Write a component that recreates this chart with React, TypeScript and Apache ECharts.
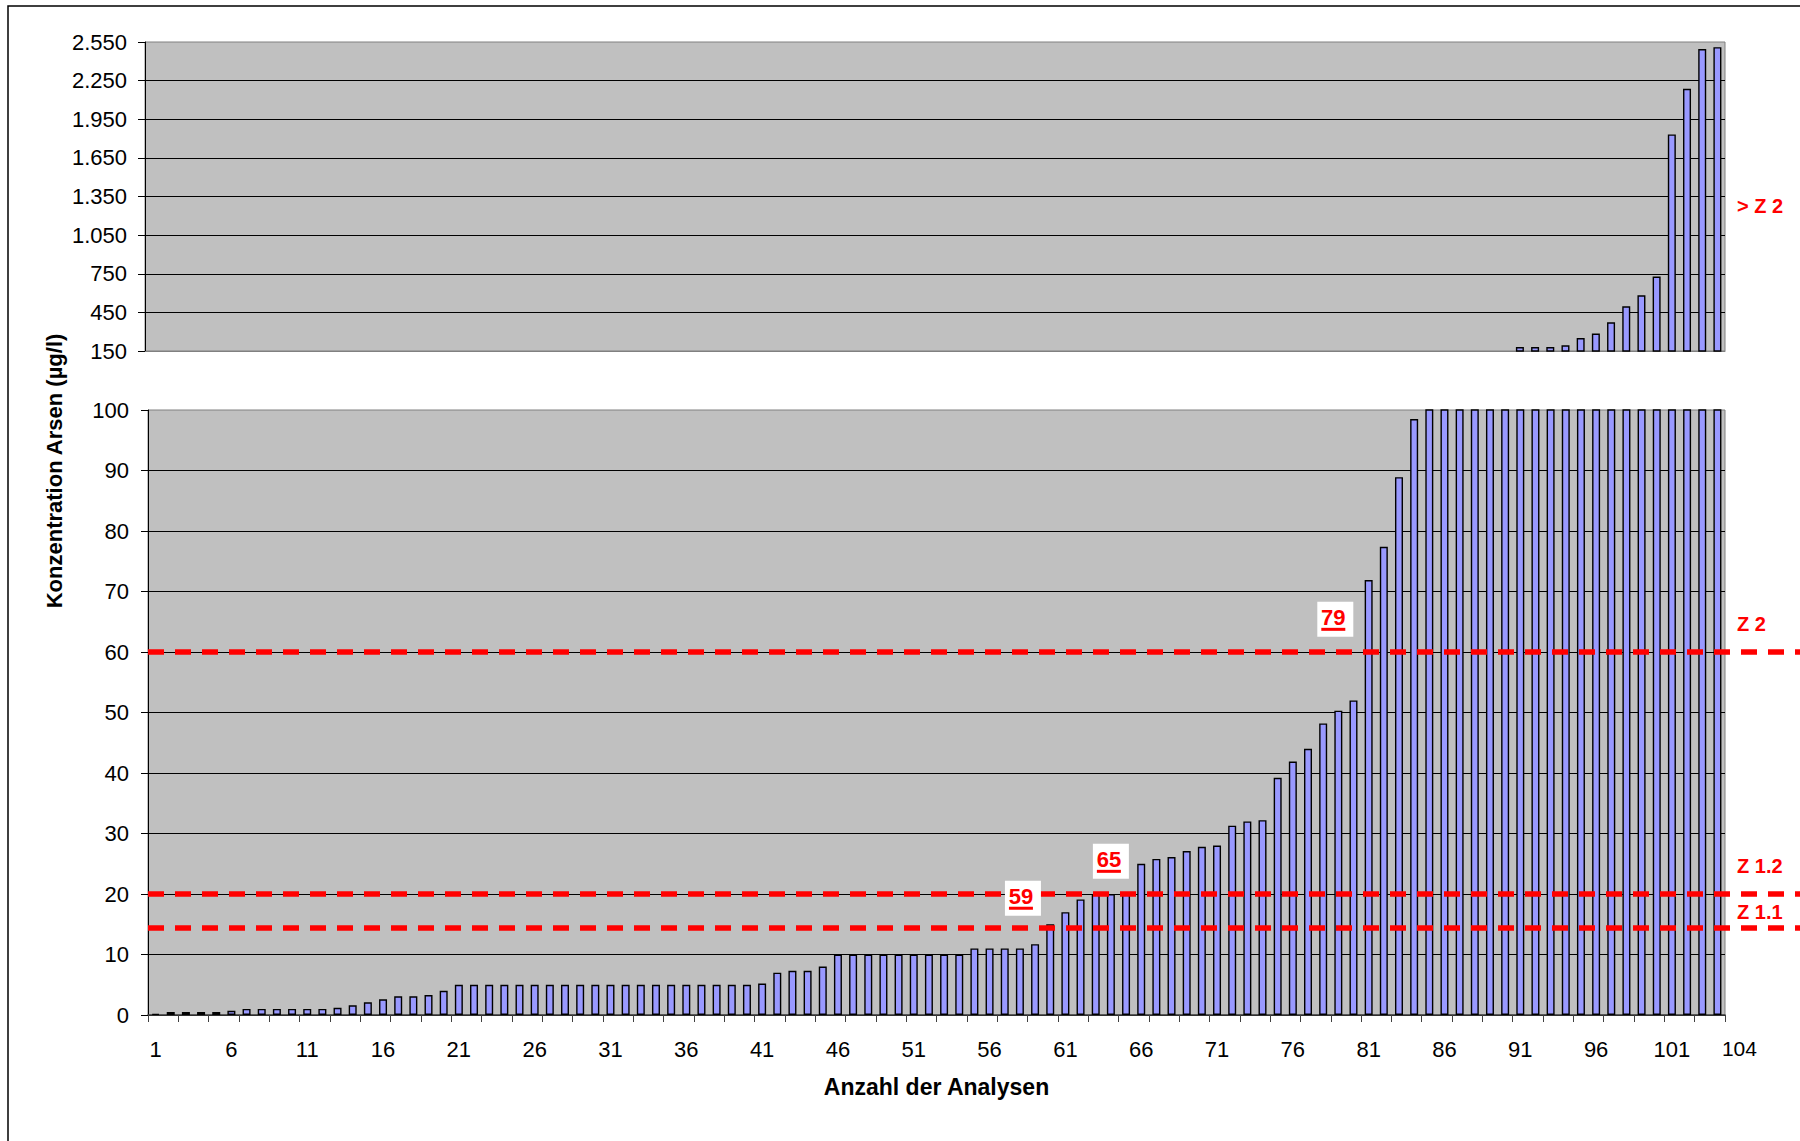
import React, { useEffect, useRef } from 'react';
import * as echarts from 'echarts';

// ---- data ----
const categories: string[] = Array.from({ length: 104 }, (_, i) => String(i + 1));

const arsenValues: number[] = [
  0.2, 0.5, 0.5, 0.5, 0.5, 0.7, 1.0, 1.0, 1.0, 1.0,
  1.0, 1.0, 1.2, 1.6, 2.1, 2.6, 3.1, 3.1, 3.3, 4.0,
  5.0, 5.0, 5.0, 5.0, 5.0, 5.0, 5.0, 5.0, 5.0, 5.0,
  5.0, 5.0, 5.0, 5.0, 5.0, 5.0, 5.0, 5.0, 5.0, 5.0,
  5.2, 7.0, 7.3, 7.3, 8.0, 10, 10, 10, 10, 10,
  10, 10, 10, 10, 11, 11, 11, 11, 11.7, 15.0,
  17.0, 19.1, 20, 20, 20, 25.0, 25.8, 26.1, 27.1, 27.8,
  28.0, 31.3, 32.0, 32.2, 39.2, 41.9, 44.0, 48.2, 50.3, 52.0,
  71.9, 77.4, 88.9, 98.5, 104, 109, 115, 122, 130, 140,
  181, 181, 181, 194, 251, 285, 373, 497, 583, 728,
  1832, 2187, 2495, 2510,
];

const upperMin = 150;
const upperMax = 2550;
const upperInterval = 300;
const lowerMin = 0;
const lowerMax = 100;
const lowerInterval = 10;

const thresholds: number[] = [60, 20, 14.5];
const thresholdLabels: string[] = ['Z 2', 'Z 1.2', 'Z 1.1'];
const upperLabel = '> Z 2';
const upperLabelValue = 1280;

const countLabels: string[] = ['59', '65', '79'];
const countCats: number[] = [58.2, 64.0, 78.8];
const countValues: number[] = [19.3, 25.4, 65.4];

const xTitle = 'Anzahl der Analysen';
const yTitle = 'Konzentration Arsen (µg/l)';

// ---- layout ----
const W = 1800;
const H = 1141;
const FONT = "'Liberation Sans', Arial, Helvetica, sans-serif";
const TICK_FONT = 22;

const fmtDe = (v: number) => String(v).replace(/\B(?=(\d{3})+(?!\d))/g, '.');

export default function App() {
  const ref = useRef<HTMLDivElement>(null);

  useEffect(() => {
    const el = ref.current;
    if (!el) return;
    const chart = echarts.init(el, null, { renderer: 'svg' });

    const barStyle = { color: '#9999FF', borderColor: '#000', borderWidth: 1.4 };
    const yAxisCommon = {
      type: 'value',
      axisLine: { show: true, lineStyle: { color: '#000', width: 1 } },
      axisTick: { show: true, length: 7, lineStyle: { color: '#000' } },
      axisLabel: { fontSize: TICK_FONT, color: '#000', fontFamily: FONT, formatter: fmtDe },
      splitLine: { show: true, showMaxLine: false, lineStyle: { color: '#000', width: 1 } },
    };

    const option: any = {
      animation: false,
      backgroundColor: '#ffffff',
      textStyle: { fontFamily: FONT },
      grid: [
        { left: 145, right: 75, top: 42, bottom: H - 351, show: true, backgroundColor: '#C0C0C0', borderColor: '#808080', borderWidth: 1 },
        { left: 148, right: 75, top: 410, bottom: H - 1015, show: true, backgroundColor: '#C0C0C0', borderColor: '#808080', borderWidth: 1 },
        { left: 148, right: 0, top: 410, bottom: H - 1015, show: false },
      ],
      xAxis: [
        {
          gridIndex: 0, type: 'category', data: categories,
          axisLine: { lineStyle: { color: '#808080' } },
          axisTick: { show: false }, axisLabel: { show: false },
        },
        {
          gridIndex: 1, type: 'category', data: categories,
          axisLine: { lineStyle: { color: '#404040', width: 1.5 } },
          axisTick: { show: true, interval: 1, length: 7, lineStyle: { color: '#404040' } },
          axisLabel: {
            interval: (i: number) => i % 5 === 0 || i === categories.length - 1,
            fontSize: TICK_FONT, color: '#000', fontFamily: FONT, margin: 23,
            formatter: (v: string, i: number) => (i === categories.length - 1 ? `{e|${v}}` : v),
            rich: { e: { fontSize: TICK_FONT - 1, color: '#000', fontFamily: FONT, padding: [0, 0, 0, 44] } },
          },
          name: xTitle, nameLocation: 'middle', nameGap: 60,
          nameTextStyle: { fontSize: 23, fontWeight: 'bold', color: '#000', fontFamily: FONT },
        },
        { gridIndex: 2, type: 'value', min: 0, max: 1, show: false },
      ],
      yAxis: [
        { ...yAxisCommon, gridIndex: 0, min: upperMin, max: upperMax, interval: upperInterval,
          axisLabel: { ...yAxisCommon.axisLabel, margin: 18 } },
        { ...yAxisCommon, gridIndex: 1, min: lowerMin, max: lowerMax, interval: lowerInterval,
          axisLabel: { ...yAxisCommon.axisLabel, margin: 19 } },
        { gridIndex: 2, type: 'value', min: lowerMin, max: lowerMax, show: false },
      ],
      series: [
        {
          type: 'bar', xAxisIndex: 0, yAxisIndex: 0, barWidth: 8, clip: true,
          itemStyle: barStyle,
          data: arsenValues.map((v) => (v > upperMin ? v : '-')),
        },
        {
          type: 'bar', xAxisIndex: 1, yAxisIndex: 1, barWidth: 8, clip: true,
          itemStyle: barStyle,
          data: arsenValues,
        },
        {
          type: 'line', xAxisIndex: 2, yAxisIndex: 2, data: [], symbol: 'none',
          markLine: {
            silent: true, symbol: ['none', 'none'], label: { show: false },
            lineStyle: { color: '#FF0000', width: 5.5, type: [16, 11], opacity: 1 },
            emphasis: { disabled: true },
            data: thresholds.map((v) => ({ yAxis: v })),
          },
        },
      ],
    };

    chart.setOption(option);

    // positions derived from the library's scales
    const xAt = (idx: number) => chart.convertToPixel({ xAxisIndex: 1 } as any, idx) as number;
    const band = xAt(1) - xAt(0);
    const rightEdge = xAt(categories.length - 1) + band / 2;
    const labelX = rightEdge + 12;

    const graphics: any[] = [
      {
        type: 'rect', silent: true, z: 100,
        shape: { x: 8, y: 6, width: W + 100, height: H + 100 },
        style: { fill: 'rgba(0,0,0,0)', stroke: '#000', lineWidth: 1.5 },
      },
      {
        type: 'text', x: 54, y: 471, rotation: Math.PI / 2, z: 100,
        style: { text: yTitle, fontSize: 22, fontWeight: 'bold', fontFamily: FONT, fill: '#000', align: 'center', verticalAlign: 'middle' },
      },
      {
        type: 'text', x: labelX, y: chart.convertToPixel({ yAxisIndex: 0 } as any, upperLabelValue) as number, z: 100,
        style: { text: upperLabel, fontSize: 20, fontWeight: 'bold', fontFamily: FONT, fill: '#FF0000', align: 'left', verticalAlign: 'middle' },
      },
    ];

    thresholds.forEach((v, k) => {
      const y = chart.convertToPixel({ yAxisIndex: 2 } as any, v) as number;
      const off = k === thresholds.length - 1 ? 15 : 28;
      graphics.push({
        type: 'text', x: labelX, y: y - off, z: 100,
        style: { text: thresholdLabels[k], fontSize: 20, fontWeight: 'bold', fontFamily: FONT, fill: '#FF0000', align: 'left', verticalAlign: 'middle' },
      });
    });

    countLabels.forEach((t, k) => {
      const pos = countCats[k] - 1;
      const i0 = Math.floor(pos);
      const cx = xAt(i0) + (pos - i0) * band;
      const cy = chart.convertToPixel({ yAxisIndex: 1 } as any, countValues[k]) as number;
      graphics.push({
        type: 'group', x: cx, y: cy, z: 100,
        children: [
          { type: 'rect', shape: { x: -18, y: -17.5, width: 36, height: 35 }, style: { fill: '#fff' }, z: 100 },
          { type: 'text', x: -2, y: -2, z: 101, style: { text: t, fontSize: 22, fontWeight: 'bold', fontFamily: FONT, fill: '#FF0000', align: 'center', verticalAlign: 'middle' } },
          { type: 'rect', shape: { x: -14, y: 8.5, width: 24, height: 3 }, style: { fill: '#FF0000' }, z: 101 },
        ],
      });
    });

    chart.setOption({ graphic: graphics });

    return () => {
      chart.dispose();
    };
  }, []);

  return <div ref={ref} style={{ position: 'absolute', left: 0, top: 0, width: W, height: H }} />;
}
